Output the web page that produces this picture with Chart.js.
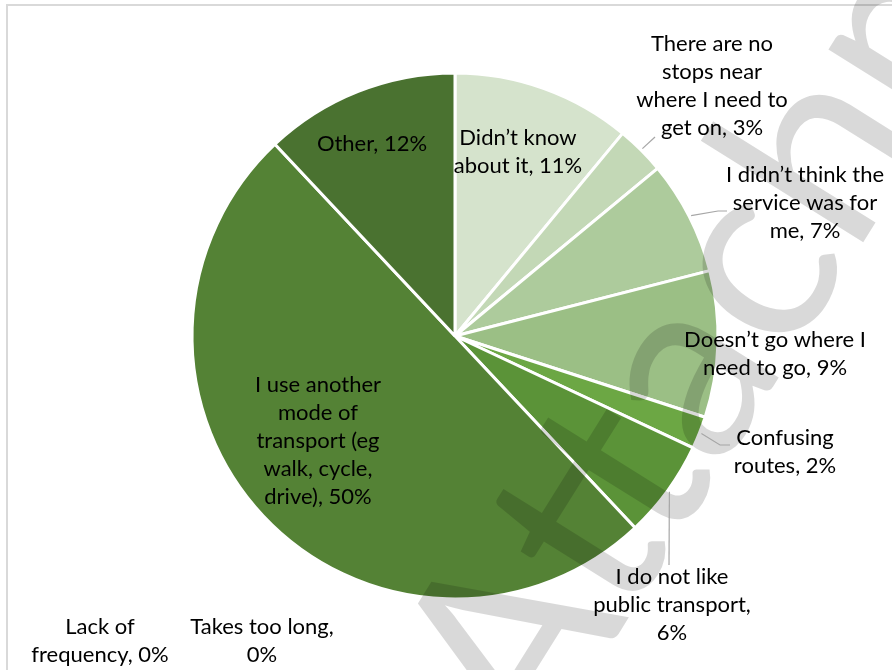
<!DOCTYPE html>
<html>
<head>
<meta charset="utf-8">
<title>Reasons for not using the service</title>
<script src="https://cdn.jsdelivr.net/npm/chart.js@4"></script>
<style>
  html, body { margin: 0; padding: 0; background: #fff; }
  canvas { display: block; }
</style>
</head>
<body>
<canvas id="reasonsChart" width="892" height="670"></canvas>
<script>
// Datos de la encuesta
const categories = [
    'Didn’t know about it',
    'There are no stops near where I need to get on',
    'I didn’t think the service was for me',
    'Doesn’t go where I need to go',
    'Confusing routes',
    'I do not like public transport',
    'I use another mode of transport (eg walk, cycle, drive)',
    'Lack of frequency',
    'Takes too long',
    'Other'
];
const percentages = [11, 3, 7, 9, 2, 6, 50, 0, 0, 12];

const sliceColors = [
    '#d5e3cc', '#c3d8b6', '#adcb9c', '#9bbf85', '#6ca744',
    '#5b9338', '#548235', '#548235', '#548235', '#4a7230'
];

// Cortes de línea (palabras por línea) y posición de cada etiqueta respecto al centro
const labelBreaks = [[2, 3], [3, 2, 4, 3], [4, 3, 2], [4, 4], [1, 2], [4, 2, 1], [3, 2, 2, 2, 2], [2, 2], [3, 1], [2]];
const labelOffsets = [[63, -184], [257, -250], [350, -133], [320, 18], [330, 116], [217, 269], [-137, 105], [-355, 305], [-193, 305], [-83, -192]];
// Líneas guía: puntos intermedios respecto al centro (null = sin línea)
const leaderPoints = [null, [[200, -199]], [[263, -125], [272, -125]], null, [[265, 109], [275, 109]], [[214, 229]], null, null, null, null];

const LABEL_FONT = '22px Lato, "Open Sans", sans-serif';
const LINE_HEIGHT = 28;

function buildLines(text, breaks) {
    const words = text.split(' ');
    const lines = [];
    let i = 0;
    breaks.forEach(n => {
        lines.push(words.slice(i, i + n).join(' '));
        i += n;
    });
    return lines;
}

// Marco gris claro del gráfico
const framePlugin = {
    id: 'frame',
    beforeDraw(chart) {
        const c = chart.ctx;
        c.save();
        c.strokeStyle = '#d9d9d9';
        c.lineWidth = 2;
        c.strokeRect(7, 5, 1000, 1000);
        c.restore();
    }
};

// Marca de agua diagonal
const watermarkPlugin = {
    id: 'watermark',
    afterDatasetsDraw(chart) {
        const c = chart.ctx;
        c.save();
        c.translate(536, 766);
        c.rotate(-58 * Math.PI / 180);
        c.font = '260px Lato, sans-serif';
        c.fillStyle = 'rgba(0, 0, 0, 0.15)';
        c.textBaseline = 'alphabetic';
        c.fillText('Attachment', 0, 0);
        c.restore();
    }
};

// Etiquetas con categoría y porcentaje, más líneas guía
const labelsPlugin = {
    id: 'sliceLabels',
    afterDraw(chart) {
        const c = chart.ctx;
        const arcs = chart.getDatasetMeta(0).data;
        c.save();
        c.font = LABEL_FONT;
        c.fillStyle = '#000';
        c.textAlign = 'center';
        c.textBaseline = 'middle';
        arcs.forEach((arc, i) => {
            const cx = arc.x, cy = arc.y;
            const text = categories[i] + ', ' + percentages[i] + '%';
            const lines = buildLines(text, labelBreaks[i]);
            const lx = cx + labelOffsets[i][0];
            const ly = cy + labelOffsets[i][1];
            const top = ly - (lines.length - 1) * LINE_HEIGHT / 2;
            lines.forEach((ln, k) => c.fillText(ln, lx, top + k * LINE_HEIGHT));

            if (leaderPoints[i]) {
                const mid = (arc.startAngle + arc.endAngle) / 2;
                const r = arc.outerRadius + 2;
                c.beginPath();
                c.strokeStyle = '#a6a6a6';
                c.lineWidth = 1.2;
                c.moveTo(cx + Math.cos(mid) * r, cy + Math.sin(mid) * r);
                leaderPoints[i].forEach(p => c.lineTo(cx + p[0], cy + p[1]));
                c.stroke();
            }
        });
        c.restore();
    }
};

const ctx = document.getElementById('reasonsChart').getContext('2d');
const reasonsChart = new Chart(ctx, {
    type: 'pie',
    data: {
        labels: categories,
        datasets: [{
            data: percentages,
            backgroundColor: sliceColors,
            borderColor: '#ffffff',
            borderWidth: 3
        }]
    },
    options: {
        responsive: false,
        animation: false,
        radius: 263,
        layout: {
            padding: { left: 192, right: 174, top: 73, bottom: 71 }
        },
        plugins: {
            legend: { display: false },
            tooltip: { enabled: false }
        }
    },
    plugins: [framePlugin, watermarkPlugin, labelsPlugin]
});
</script>
</body>
</html>
